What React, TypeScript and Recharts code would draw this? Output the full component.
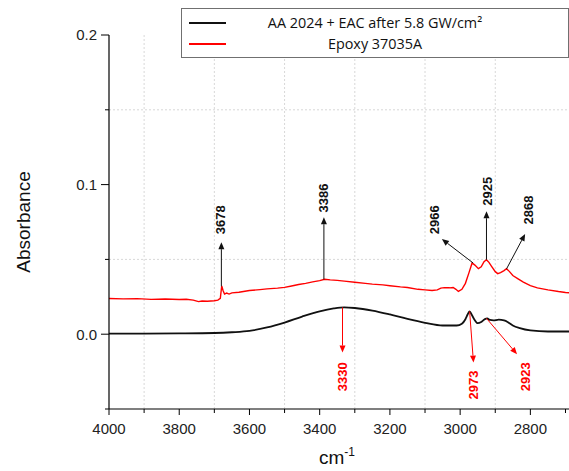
import React from 'react';
import {
  ComposedChart,
  Line,
  XAxis,
  YAxis,
  ReferenceLine,
  ReferenceDot,
  Legend,
} from 'recharts';

// ---- Data ----
const epoxyWavenumber = [
  4000, 3960, 3920, 3880, 3840, 3800, 3780, 3760, 3745, 3735, 3720, 3700, 3690, 3683, 3679, 3675, 3671, 3665,
  3658, 3650, 3630, 3600, 3570, 3550, 3520, 3500, 3480, 3460, 3440, 3420, 3400, 3386, 3370, 3350, 3330, 3300,
  3270, 3250, 3220, 3200, 3170, 3150, 3120, 3100, 3080, 3065, 3055, 3045, 3030, 3020, 3012, 3005, 2995, 2985,
  2975, 2966, 2958, 2948, 2940, 2932, 2925, 2918, 2910, 2900, 2893, 2885, 2875, 2868, 2860, 2850, 2835, 2820,
  2800, 2780, 2750, 2720, 2700, 2690,
];
const epoxyAbsorbance = [
  0.0239, 0.0236, 0.0238, 0.0233, 0.0235, 0.0232, 0.0234, 0.0228, 0.0218, 0.0222, 0.022, 0.0224, 0.0228, 0.024,
  0.0322, 0.029, 0.0268, 0.0275, 0.0268, 0.0276, 0.028, 0.0292, 0.0298, 0.0303, 0.0308, 0.0313, 0.0322, 0.0332,
  0.034, 0.035, 0.0358, 0.0367, 0.0363, 0.036, 0.0355, 0.0347, 0.034, 0.0335, 0.033, 0.0324, 0.0316, 0.0312,
  0.03, 0.0296, 0.0292, 0.0296, 0.0308, 0.0311, 0.031, 0.0312, 0.03, 0.0286, 0.03, 0.034, 0.041, 0.0476, 0.0462,
  0.0438, 0.045, 0.0485, 0.0498, 0.048, 0.0452, 0.0418, 0.0405, 0.0412, 0.0425, 0.0438, 0.042, 0.0392, 0.037,
  0.0348, 0.0325, 0.031, 0.0296, 0.0285, 0.0279, 0.0277,
];

const aaWavenumber = [
  4000, 3900, 3800, 3700, 3650, 3600, 3550, 3500, 3450, 3400, 3360, 3330, 3300, 3250, 3200, 3150, 3100, 3050,
  3010, 2995, 2985, 2978, 2973, 2967, 2960, 2950, 2940, 2930, 2923, 2915, 2905, 2890, 2875, 2865, 2850, 2830,
  2800, 2750, 2700, 2690,
];
const aaAbsorbance = [
  0.0004, 0.0004, 0.0005, 0.0008, 0.0013, 0.0022, 0.0045, 0.0078, 0.0118, 0.0153, 0.0172, 0.0179, 0.0175,
  0.0158, 0.0132, 0.0102, 0.0076, 0.0058, 0.0058, 0.007, 0.01, 0.0135, 0.0152, 0.013, 0.01, 0.0074, 0.0082,
  0.01, 0.0106, 0.0095, 0.0092, 0.0097, 0.0092, 0.0082, 0.0058, 0.004, 0.0025, 0.0018, 0.0018, 0.0018,
];

const seriesNames = ['AA 2024 + EAC after 5.8 GW/cm²', 'Epoxy 37035A'];
const seriesColors = ['#111111', '#ff0000'];

const xDomain = [2690, 4000];
const xTicks = [4000, 3900, 3800, 3700, 3600, 3500, 3400, 3300, 3200, 3100, 3000, 2900, 2800, 2700];
const xGridLines = [3900, 3700, 3500, 3300, 3100, 2900];
const yTicks = [-0.05, 0, 0.05, 0.1, 0.15, 0.2];
const yGridLines = [0.05, 0.15];

// epoxy peak annotations (black)
const epoxyPeakLabels = ['3678', '3386', '2966', '2925', '2868'];
const epoxyArrowFrom = [[3680, 0.032], [3388, 0.0366], [2963, 0.0476], [2925, 0.0498], [2868, 0.0436]];
const epoxyArrowTo = [[3680, 0.0615], [3388, 0.0782], [3052, 0.0636], [2925, 0.0822], [2815, 0.067]];
const epoxyLabelAt = [[3682, 0.0765], [3390, 0.091], [3073, 0.0765], [2923, 0.0955], [2806, 0.083]];

// AA peak annotations (red)
const aaPeakLabels = ['3330', '2973', '2923'];
const aaArrowFrom = [[3335, 0.0179], [2973, 0.0152], [2925, 0.0106]];
const aaArrowTo = [[3335, -0.0123], [2962, -0.019], [2838, -0.0134]];
const aaLabelAt = [[3335, -0.0285], [2962, -0.034], [2814, -0.0285]];

const epoxyData = epoxyWavenumber.map((x, i) => ({ x, y: epoxyAbsorbance[i] }));
const aaData = aaWavenumber.map((x, i) => ({ x, y: aaAbsorbance[i] }));

const FONT = '"Liberation Sans", Arial, sans-serif';

const XTick = (props: any) => {
  const { x, y, payload } = props;
  const v = payload.value;
  const major = Math.round(v) % 200 === 0;
  return (
    <g>
      <line x1={x} y1={y} x2={x} y2={y + (major ? 6 : 4)} stroke="#000" strokeWidth={1} />
      {major && (
        <text x={x} y={y + 25} textAnchor="middle" fontSize={15} fontFamily={FONT} fill="#222">
          {v}
        </text>
      )}
    </g>
  );
};

const YTick = (props: any) => {
  const { x, y, payload } = props;
  const v = payload.value;
  const major = Math.abs(v * 10 - Math.round(v * 10)) < 1e-6 && v > -0.01;
  return (
    <g>
      <line x1={x} y1={y} x2={x - (major ? 8 : 4)} y2={y} stroke="#000" strokeWidth={1} />
      {major && (
        <text x={x - 12} y={y} dy="0.36em" textAnchor="end" fontSize={15} fontFamily={FONT} fill="#222">
          {v.toFixed(1)}
        </text>
      )}
    </g>
  );
};

const RightTick = (props: any) => {
  const { x, y } = props;
  return <line x1={x - 6} y1={y} x2={x} y2={y} stroke="#000" strokeWidth={1} />;
};

const makeArrow = (color: string) => (props: any) => {
  const { x1, y1, x2, y2 } = props;
  const dx = x2 - x1;
  const dy = y2 - y1;
  const len = Math.sqrt(dx * dx + dy * dy) || 1;
  const ux = dx / len;
  const uy = dy / len;
  const hl = 7;
  const hw = 3;
  const bx = x2 - ux * hl;
  const by = y2 - uy * hl;
  const p1 = `${x2},${y2}`;
  const p2 = `${bx - uy * hw},${by + ux * hw}`;
  const p3 = `${bx + uy * hw},${by - ux * hw}`;
  return (
    <g>
      <line x1={x1} y1={y1} x2={bx} y2={by} stroke={color} strokeWidth={1} />
      <polygon points={`${p1} ${p2} ${p3}`} fill={color} />
    </g>
  );
};

const makeLabel = (text: string, color: string) => (props: any) => {
  const { cx, cy } = props;
  return (
    <text
      x={cx}
      y={cy}
      transform={`rotate(-90 ${cx} ${cy})`}
      textAnchor="middle"
      dy="0.36em"
      fontSize={13}
      fontWeight="bold"
      fontFamily={FONT}
      fill={color}
    >
      {text}
    </text>
  );
};

const renderLegend = (props: any) => {
  const { payload } = props;
  return (
    <div
      style={{
        width: 388,
        height: 50,
        border: '1px solid #707070',
        background: '#fff',
        boxSizing: 'border-box',
        position: 'relative',
        fontFamily: '"Open Sans", sans-serif',
        fontSize: 14.4,
        color: '#111',
      }}
    >
      {(payload || []).map((p: any, i: number) => (
        <div key={i} style={{ position: 'absolute', left: 0, top: 4 + i * 21, width: 386, height: 20 }}>
          <svg width={40} height={20} style={{ position: 'absolute', left: 7, top: 0 }}>
            <line x1={0} y1={10} x2={37} y2={10} stroke={p.color} strokeWidth={2} />
          </svg>
          <span
            style={{
              position: 'absolute',
              left: 0,
              width: 386,
              textAlign: 'center',
              top: 0,
              lineHeight: '20px',
            }}
          >
            {p.value}
          </span>
        </div>
      ))}
    </div>
  );
};

export default function App() {
  return (
    <div style={{ position: 'absolute', left: 0, top: 0, background: '#fff' }}>
      <ComposedChart width={569} height={471} margin={{ top: 35, right: 0, bottom: 0, left: 0 }}>
        <XAxis
          type="number"
          dataKey="x"
          domain={xDomain}
          reversed
          allowDataOverflow
          ticks={xTicks}
          interval={0}
          tickSize={0}
          tickMargin={0}
          tickLine={false}
          tick={<XTick />}
          height={62}
          axisLine={{ stroke: '#000', strokeWidth: 1.2 }}
          label={{
            position: 'center',
            content: (lp: any) => {
              const vb = lp.viewBox;
              const cx = vb.x + vb.width / 2 - 2;
              const cy = vb.y + 55;
              return (
                <text x={cx} y={cy} textAnchor="middle" fontSize={19} fontFamily={FONT} fill="#111">
                  cm
                  <tspan dy={-8} fontSize={12}>
                    -1
                  </tspan>
                </text>
              );
            },
          }}
        />
        <XAxis
          xAxisId="top"
          orientation="top"
          type="number"
          domain={xDomain}
          reversed
          height={0}
          tick={false}
          tickLine={false}
          axisLine={{ stroke: '#000', strokeWidth: 1.2 }}
        />
        <YAxis
          type="number"
          domain={[-0.05, 0.2]}
          allowDataOverflow
          ticks={yTicks}
          interval={0}
          width={109}
          tickSize={0}
          tickMargin={0}
          tickLine={false}
          tick={<YTick />}
          axisLine={{ stroke: '#000', strokeWidth: 1.2 }}
          label={{ value: 'Absorbance', angle: -90, position: 'center', dx: -31, fontSize: 19, fontFamily: FONT, fill: '#111' }}
        />
        <YAxis
          yAxisId="right"
          orientation="right"
          type="number"
          domain={[-0.05, 0.2]}
          ticks={[0, 0.1]}
          width={0}
          tickSize={0}
          tickMargin={0}
          tickLine={false}
          tick={<RightTick />}
          axisLine={{ stroke: '#000', strokeWidth: 1.2 }}
        />

        {xGridLines.map((v) => (
          <ReferenceLine key={`gx${v}`} x={v} stroke="#d8d8d8" strokeDasharray="2 2" strokeWidth={1} />
        ))}
        {yGridLines.map((v) => (
          <ReferenceLine key={`gy${v}`} y={v} stroke="#d8d8d8" strokeDasharray="2 2" strokeWidth={1} />
        ))}

        <Line
          data={aaData}
          dataKey="y"
          name={seriesNames[0]}
          stroke={seriesColors[0]}
          strokeWidth={1.8}
          dot={false}
          type="monotone"
          isAnimationActive={false}
        />
        <Line
          data={epoxyData}
          dataKey="y"
          name={seriesNames[1]}
          stroke={seriesColors[1]}
          strokeWidth={1.4}
          dot={false}
          type="linear"
          isAnimationActive={false}
        />

        {epoxyPeakLabels.map((lab, i) => (
          <ReferenceLine
            key={`ea${lab}`}
            segment={[
              { x: epoxyArrowFrom[i][0], y: epoxyArrowFrom[i][1] },
              { x: epoxyArrowTo[i][0], y: epoxyArrowTo[i][1] },
            ]}
            shape={makeArrow('#111')}
          />
        ))}
        {epoxyPeakLabels.map((lab, i) => (
          <ReferenceDot
            key={`el${lab}`}
            x={epoxyLabelAt[i][0]}
            y={epoxyLabelAt[i][1]}
            r={1}
            ifOverflow="visible"
            shape={makeLabel(lab, '#111')}
          />
        ))}
        {aaPeakLabels.map((lab, i) => (
          <ReferenceLine
            key={`aa${lab}`}
            segment={[
              { x: aaArrowFrom[i][0], y: aaArrowFrom[i][1] },
              { x: aaArrowTo[i][0], y: aaArrowTo[i][1] },
            ]}
            shape={makeArrow('#ff0000')}
          />
        ))}
        {aaPeakLabels.map((lab, i) => (
          <ReferenceDot
            key={`al${lab}`}
            x={aaLabelAt[i][0]}
            y={aaLabelAt[i][1]}
            r={1}
            ifOverflow="visible"
            shape={makeLabel(lab, '#ff0000')}
          />
        ))}

        <Legend
          layout="horizontal"
          verticalAlign="middle"
          align="center"
          content={renderLegend}
          wrapperStyle={{ top: 8, left: 181, width: 388, height: 50 }}
        />
      </ComposedChart>
    </div>
  );
}
